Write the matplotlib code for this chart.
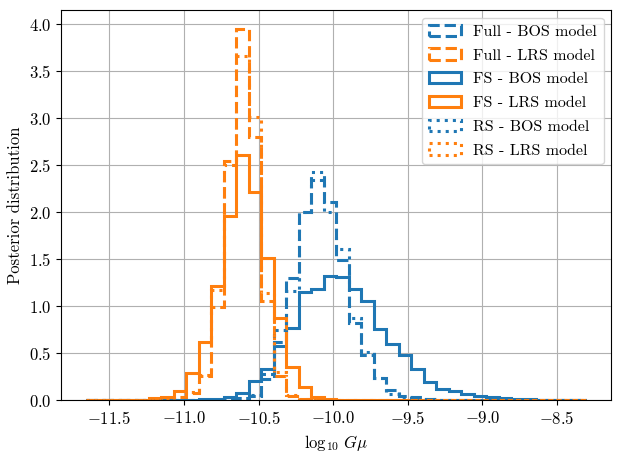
import numpy as np
import matplotlib
matplotlib.use('Agg')
import matplotlib.pyplot as plt

plt.rcParams['font.family'] = 'serif'
plt.rcParams['font.serif'] = ['cmr10']
plt.rcParams['mathtext.fontset'] = 'cm'
plt.rcParams['axes.formatter.use_mathtext'] = True
plt.rcParams['font.size'] = 12

# rango comun de los bines (log10 Gmu), 40 bines
x_min = -11.6535
x_max = -8.3035
n_bins = 40

# densidades leidas por bin
full_bos = [0, 0, 0, 0, 0, 0, 0, 0, 0, 0.002, 0.005, 0.01, 0.02, 0.05, 0.23, 0.62,
            1.30, 2.00, 2.34, 2.11, 1.49, 0.82, 0.48, 0.24, 0.11, 0.05, 0.03, 0.01,
            0.005, 0.003, 0, 0, 0, 0, 0, 0, 0, 0, 0, 0]
full_lrs = [0, 0, 0, 0, 0.002, 0.005, 0.01, 0.03, 0.08, 0.26, 0.99, 2.54, 3.95, 2.80,
            1.06, 0.26, 0.05, 0.01, 0.003, 0, 0, 0, 0, 0, 0, 0, 0, 0, 0, 0,
            0, 0, 0, 0, 0, 0, 0, 0, 0, 0]
fs_bos = [0, 0, 0, 0, 0, 0, 0, 0, 0.005, 0.01, 0.015, 0.03, 0.08, 0.20, 0.33, 0.58,
          0.77, 1.15, 1.18, 1.32, 1.31, 1.18, 1.06, 0.76, 0.60, 0.48, 0.33, 0.19,
          0.12, 0.10, 0.07, 0.045, 0.03, 0.02, 0.015, 0.01, 0.008, 0.005, 0.004, 0.003]
fs_lrs = [0.003, 0.003, 0.005, 0.005, 0.008, 0.02, 0.04, 0.10, 0.29, 0.62, 1.22, 1.96,
          2.61, 2.21, 1.51, 0.88, 0.35, 0.14, 0.03, 0.01, 0.003, 0.002, 0.001, 0, 0,
          0, 0, 0, 0, 0, 0, 0, 0, 0, 0, 0, 0, 0, 0, 0]
rs_bos = [0, 0, 0, 0, 0, 0, 0, 0, 0, 0.002, 0.005, 0.01, 0.02, 0.06, 0.28, 0.75,
          1.16, 2.00, 2.43, 2.00, 1.61, 0.87, 0.51, 0.24, 0.07, 0.04, 0.02, 0.01,
          0.005, 0.002, 0, 0, 0, 0, 0, 0, 0, 0, 0, 0]
rs_lrs = [0, 0, 0, 0, 0.002, 0.005, 0.01, 0.03, 0.09, 0.27, 1.17, 2.50, 3.66, 3.01,
          1.14, 0.30, 0.06, 0.01, 0.003, 0, 0, 0, 0, 0, 0, 0, 0, 0, 0, 0,
          0, 0, 0, 0, 0, 0, 0, 0, 0, 0]

series = [
    (full_bos, 'Full - BOS model', 'C0', '--'),
    (full_lrs, 'Full - LRS model', 'C1', '--'),
    (fs_bos, 'FS - BOS model', 'C0', '-'),
    (fs_lrs, 'FS - LRS model', 'C1', '-'),
    (rs_bos, 'RS - BOS model', 'C0', ':'),
    (rs_lrs, 'RS - LRS model', 'C1', ':'),
]

bins = np.linspace(x_min, x_max, n_bins + 1)
centros = 0.5 * (bins[1:] + bins[:-1])

fig, ax = plt.subplots(figsize=(6.22, 4.57), dpi=100)
fig.subplots_adjust(left=0.0986, right=0.9831, top=0.9775, bottom=0.1241)

for vals, label, color, ls in series:
    ax.hist(centros, bins=bins, weights=vals, histtype='step', color=color,
            linestyle=ls, linewidth=2.2, label=label)

ax.set_xlabel(r'$\log_{10}\, G\mu$')
ax.set_ylabel('Posterior distribution')
ax.grid(True)
ax.set_axisbelow(True)
ax.legend(loc='upper right', fontsize=11.5, labelspacing=0.6)

fig.savefig('out.png', dpi=100)
